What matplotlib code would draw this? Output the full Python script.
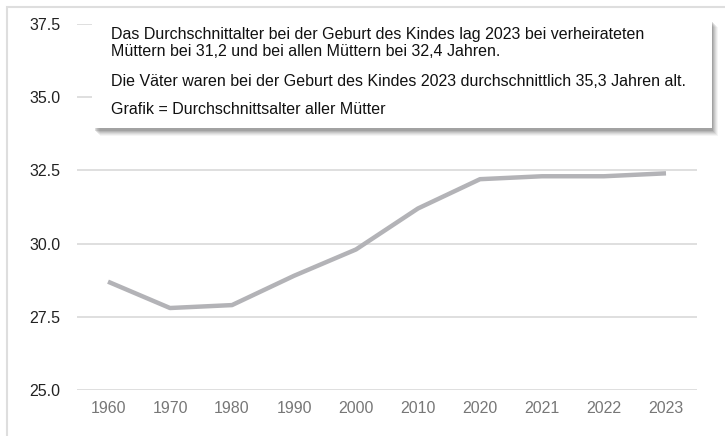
import matplotlib
matplotlib.use("Agg")
import matplotlib.pyplot as plt
from matplotlib.patches import Rectangle

plt.rcParams['font.family'] = ['Liberation Sans', 'DejaVu Sans']

jahre = ['1960', '1970', '1980', '1990', '2000', '2010', '2020', '2021', '2022', '2023']
alter_muetter = [28.7, 27.8, 27.9, 28.9, 29.8, 31.2, 32.2, 32.3, 32.3, 32.4]
y_ticks = [25.0, 27.5, 30.0, 32.5, 35.0, 37.5]
info_zeilen = [
    'Das Durchschnittalter bei der Geburt des Kindes lag 2023 bei verheirateten',
    'Müttern bei 31,2 und bei allen Müttern bei 32,4 Jahren.',
    'Die Väter waren bei der Geburt des Kindes 2023 durchschnittlich 35,3 Jahren alt.',
    'Grafik = Durchschnittsalter aller Mütter',
]

W, H = 725, 436
fig = plt.figure(figsize=(W / 100, H / 100), dpi=100)
ax = fig.add_axes([77 / W, 1 - 390 / H, 620 / W, 366 / H])

x = range(len(jahre))
ax.plot(x, alter_muetter, color='#b3b3b7', lw=3.2, solid_capstyle='butt', zorder=3)

ax.set_xlim(-0.5, len(jahre) - 0.5)
ax.set_ylim(25, 37.5)
ax.set_xticks(list(x))
ax.set_xticklabels(jahre, color='#777777', fontsize=11.5)
ax.set_yticks(y_ticks)
ax.set_yticklabels(['%.1f' % v for v in y_ticks], color='#222222', fontsize=11.5)
ax.tick_params(length=0, pad=8)
ax.tick_params(axis='y', pad=12)
ax.grid(axis='y', color='#dcdcdc', lw=1.3)
ax.set_axisbelow(True)
for s in ax.spines.values():
    s.set_visible(False)

# aeusserer Rahmen (rechts/unten abgeschnitten)
fig.add_artist(Rectangle((7 / W, -0.1), 1.2, 1.1 - 7 / H, transform=fig.transFigure,
                         fill=False, ec='#dedede', lw=1.5))

# Infobox mit Schatten
bx, by, bw, bh = 92, 16, 620, 112
for i, a in enumerate([0.06, 0.08, 0.1, 0.12, 0.15, 0.2]):
    off = 8 - i
    fig.add_artist(Rectangle(((bx + off) / W, 1 - (by + bh + off) / H), (bw - 2) / W, (bh - 3) / H,
                             transform=fig.transFigure, fc='#555555', ec='none', alpha=a))
fig.add_artist(Rectangle((bx / W, 1 - (by + bh) / H), bw / W, bh / H,
                         transform=fig.transFigure, fc='white', ec='none'))

for yy, txt in zip([35, 51, 81, 110], info_zeilen):
    fig.text(111 / W, 1 - yy / H, txt, fontsize=11.5, color='#111111', va='center', ha='left')

fig.savefig('out.png', dpi=100)
